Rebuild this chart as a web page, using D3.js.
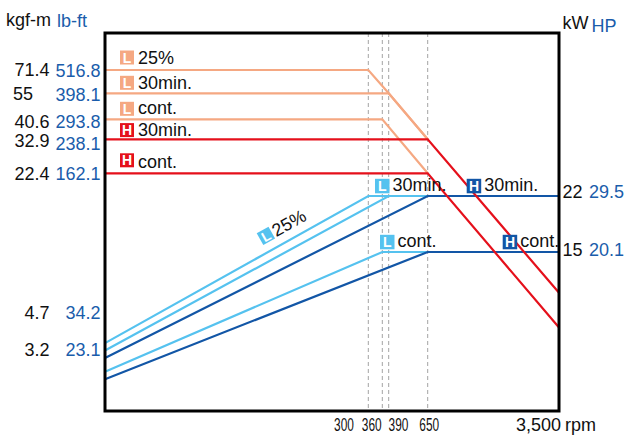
<!DOCTYPE html>
<html><head><meta charset="utf-8">
<script src="https://cdn.jsdelivr.net/npm/d3@7"></script>
<style>
body{margin:0;background:#fff}
svg{display:block}
text{font-family:"Liberation Sans",Arial,Helvetica,sans-serif}
</style>
</head><body>
<svg id="c" width="625" height="437"></svg>
<script>
// ---------------- data ----------------
const rpmBreaks = [0, 300, 360, 390, 650, 3500];
const rpmTicks = [300, 360, 390, 650];
const rpmMaxLabel = "3,500";
const rpmUnit = "rpm";

const torqueKgfm = [71.4, 55, 40.6, 32.9, 22.4, 4.7, 3.2];
const torqueLbft = ["516.8", "398.1", "293.8", "238.1", "162.1", "34.2", "23.1"];
const powerKw = [22, 15];
const powerHp = ["29.5", "20.1"];

// torque curves [rpm, kgf-m]
const torqueL25 = [[0, 71.4], [300, 71.4], [390, 55], [650, 32.9]];
const torqueL30 = [[0, 55], [390, 55], [650, 32.9]];
const torqueLcont = [[0, 40.6], [360, 40.6], [650, 22.4]];
const torqueH30 = [[0, 32.9], [650, 32.9], [3500, 7.2]];
const torqueHcont = [[0, 22.4], [650, 22.4], [3500, 4.1]];

// power curves [rpm, kW]
const powerL25 = [[0, 6.4], [300, 22], [650, 22]];
const powerL30 = [[0, 5.7], [390, 22], [650, 22]];
const powerLcont = [[0, 3.7], [360, 15], [650, 15]];
const powerH30 = [[0, 5.0], [650, 22], [3500, 22]];
const powerHcont = [[0, 3.0], [650, 15], [3500, 15]];

const seriesLetters = ["L", "L", "L", "H", "H"];
const seriesTexts = ["25%", "30min.", "cont.", "30min.", "cont."];

// ---------------- layout ----------------
const svg = d3.select("#c");
const L = 105, R = 559, T = 33, B = 411;
const C = {
  salmon: "#f5a882", red: "#e5101b", lblue: "#55c2ef", dblue: "#1256a6",
  blueText: "#1a5dab", grid: "#a3a3a3"
};

const x = d3.scaleLinear().domain(rpmBreaks).range([L, 368.3, 382.3, 388.7, 427.7, R]);
const yT = d3.scaleLinear().domain([3.2, 4.7, 22.4, 32.9, 40.6, 55, 71.4])
  .range([350, 312.5, 173.3, 139.3, 119.3, 93.3, 70]);
const yP = d3.scaleLinear().domain([0, 15, 22]).range([B, 252, 196]);

const lineT = d3.line().x(d => x(d[0])).y(d => yT(d[1]));
const lineP = d3.line().x(d => x(d[0])).y(d => yP(d[1]));

// dashed verticals
svg.append("g").selectAll("line").data(rpmTicks).join("line")
  .attr("x1", d => x(d)).attr("x2", d => x(d))
  .attr("y1", T).attr("y2", B)
  .attr("stroke", C.grid).attr("stroke-width", 1).attr("stroke-dasharray", "4,3");

// power lines (light first, dark on top)
const pSeries = [
  {d: powerL25, c: C.lblue}, {d: powerL30, c: C.lblue}, {d: powerLcont, c: C.lblue},
  {d: powerH30, c: C.dblue}, {d: powerHcont, c: C.dblue}
];
svg.append("g").selectAll("path").data(pSeries).join("path")
  .attr("d", s => lineP(s.d)).attr("fill", "none")
  .attr("stroke", s => s.c).attr("stroke-width", 2.2);

// torque lines
const tSeries = [
  {d: torqueL25, c: C.salmon}, {d: torqueL30, c: C.salmon}, {d: torqueLcont, c: C.salmon},
  {d: torqueH30, c: C.red}, {d: torqueHcont, c: C.red}
];
svg.append("g").selectAll("path").data(tSeries).join("path")
  .attr("d", s => lineT(s.d)).attr("fill", "none")
  .attr("stroke", s => s.c).attr("stroke-width", 2.2);

// frame
svg.append("rect").attr("x", L).attr("y", T).attr("width", R - L).attr("height", B - T)
  .attr("fill", "none").attr("stroke", "#000").attr("stroke-width", 3);

// badge helper
function badge(g, bx, by, letter, fill, size) {
  size = size || 14;
  g.append("rect").attr("x", bx).attr("y", by).attr("width", size).attr("height", size).attr("fill", fill);
  g.append("text").attr("x", bx + size / 2).attr("y", by + size / 2)
    .attr("dy", "0.37em").attr("text-anchor", "middle")
    .attr("font-size", 14).attr("font-weight", "bold").attr("fill", "#fff").text(letter);
}

// torque legend labels (left, above each horizontal)
const tColors = [C.salmon, C.salmon, C.salmon, C.red, C.red];
const tLevels = [torqueL25[0][1], torqueL30[0][1], torqueLcont[0][1], torqueH30[0][1], torqueHcont[0][1]];
const tBadgeGap = [5.5, 3.5, 3.5, 2.2, 6];
const tTextGap = [5.8, 4.2, 5, 3.4, 5.7];
const gl = svg.append("g");
tLevels.forEach((v, i) => {
  const yy = yT(v);
  badge(gl, 120, yy - tBadgeGap[i] - 14, seriesLetters[i], tColors[i]);
  gl.append("text").attr("x", 138).attr("y", yy - tTextGap[i])
    .attr("font-size", 18).attr("fill", "#111").text(seriesTexts[i]);
});

// power labels
const gp = svg.append("g");
const pLab = [
  {bx: 375, lv: 22, letter: "L", c: C.lblue, t: seriesTexts[1]},
  {bx: 466.7, lv: 22, letter: "H", c: C.dblue, t: seriesTexts[3]},
  {bx: 380, lv: 15, letter: "L", c: C.lblue, t: seriesTexts[2]},
  {bx: 502.7, lv: 15, letter: "H", c: C.dblue, t: seriesTexts[4]}
];
pLab.forEach(p => {
  const yy = yP(p.lv);
  badge(gp, p.bx, yy - 2.7 - 14.5, p.letter, p.c, 14.5);
  gp.append("text").attr("x", p.bx + 17.5).attr("y", yy - 5)
    .attr("font-size", 18).attr("fill", "#111").text(p.t);
});

// rotated L 25% label along the L25 power line
const p0 = powerL25[0], p1 = powerL25[1];
const ang = Math.atan2(yP(p1[1]) - yP(p0[1]), x(p1[0]) - x(p0[0])) * 180 / Math.PI;
const gr = svg.append("g").attr("transform", `translate(263.3,245) rotate(${ang})`);
badge(gr, 0, -13.5, "L", C.lblue, 13.5);
gr.append("text").attr("x", 15).attr("y", -0.5).attr("font-size", 18).attr("fill", "#111").text(seriesTexts[0]);

// left axis labels
const ga = svg.append("g").attr("font-size", 18);
ga.append("text").attr("x", 6).attr("y", 26).attr("fill", "#111").text("kgf-m");
ga.append("text").attr("x", 57).attr("y", 27).attr("fill", C.blueText).text("lb-ft");
const kgfLabelY = [0, 0, 2.4, 1, 0, 0, 0];
const lbLabelY = [1, 1, 2.4, 4, 0, 0, 0];
torqueKgfm.forEach((v, i) => {
  const yy = yT(v);
  const two = String(v).length <= 2;
  ga.append("text").attr("x", two ? 13 : 49.5).attr("text-anchor", two ? "start" : "end")
    .attr("y", yy + kgfLabelY[i]).attr("dy", "0.36em").attr("fill", "#111").text(v);
  ga.append("text").attr("x", 100.5).attr("text-anchor", "end")
    .attr("y", yy + lbLabelY[i]).attr("dy", "0.36em").attr("fill", C.blueText).text(torqueLbft[i]);
});

// right axis labels
ga.append("text").attr("x", 562.5).attr("y", 29).attr("fill", "#111").text("kW");
ga.append("text").attr("x", 591.5).attr("y", 31.5).attr("fill", C.blueText).text("HP");
const pLabY = [-4, -2];
powerKw.forEach((v, i) => {
  const yy = yP(v) + pLabY[i];
  ga.append("text").attr("x", 562.5).attr("y", yy).attr("dy", "0.36em").attr("fill", "#111").text(v);
  ga.append("text").attr("x", 589).attr("y", yy).attr("dy", "0.36em").attr("fill", C.blueText).text(powerHp[i]);
});

// x-axis labels (condensed)
const xLabDx = [-24.3, -10.6, 9.8, 1.5];
rpmTicks.forEach((v, i) => {
  svg.append("text")
    .attr("transform", `translate(${x(v) + xLabDx[i]},430.5) scale(0.66,1)`)
    .attr("text-anchor", "middle").attr("font-size", 18).attr("fill", "#111").text(v);
});
svg.append("text").attr("x", 561).attr("y", 431).attr("text-anchor", "end")
  .attr("font-size", 18).attr("fill", "#111").text(rpmMaxLabel);
svg.append("text").attr("x", 565).attr("y", 431)
  .attr("font-size", 18).attr("fill", "#111").text(rpmUnit);
</script>
</body></html>
